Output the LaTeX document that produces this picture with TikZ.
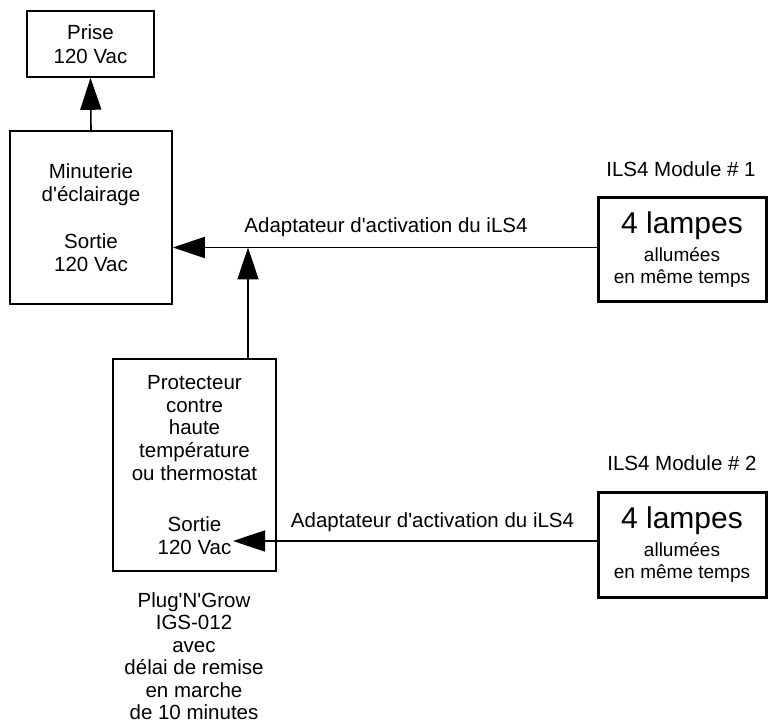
\documentclass[tikz,border=0pt]{standalone}
\usepackage{fontspec}
\setmainfont{Liberation Sans}
\usetikzlibrary{arrows.meta,calc}
\newcommand{\apos}{\textquotesingle}
\begin{document}
\begin{tikzpicture}[x=1pt,y=-1pt,
  box/.style={draw,line width=1.6pt,rectangle,align=center,inner sep=0pt,font=\fontsize{20.5}{23.5}\selectfont},
  modbox/.style={draw,line width=3pt,rectangle,align=center,inner sep=0pt,minimum width=168pt,font=\fontsize{19}{22}\selectfont},
  lbl/.style={inner sep=0pt,align=center,font=\fontsize{20.5}{22.5}\selectfont},
  big/.style={line width=1.6pt,-{Triangle[length=32pt,width=21pt]}}]
\useasboundingbox (0,0) rectangle (768,727);
\node[box,minimum width=127pt,minimum height=66pt] (prise) at (90.5,44) {Prise\\120 Vac};
\node[box,minimum width=162pt,minimum height=173pt] (minu) at (91,217.5) {Minuterie\\d\apos éclairage\\[23pt]Sortie\\120 Vac};
\node[box,minimum width=163pt,minimum height=212pt,font=\fontsize{20.5}{22.7}\selectfont] (prot) at (194.5,465) {Protecteur\\contre\\haute\\température\\ou thermostat\\[29pt]Sortie\\120 Vac};
\node[modbox,minimum height=103pt] (mod1) at (682,249.5) {{\fontsize{30}{31}\selectfont 4 lampes}\\[6pt]allumées\\en même temps};
\node[modbox,minimum height=105pt] (mod2) at (682,544.5) {{\fontsize{30}{31}\selectfont 4 lampes}\\[6pt]allumées\\en même temps};
\node[lbl] (lab1) at (681,169) {ILS4 Module \# 1};
\node[lbl] (lab2) at (682,463) {ILS4 Module \# 2};
\node[lbl] (a1) at (386,227) {Adaptateur d\apos activation du iLS4};
\node[lbl] (a2) at (432.5,522) {Adaptateur d\apos activation du iLS4};
\node[lbl] (png) at (194,656) {Plug\apos N\apos Grow\\IGS-012\\avec\\délai de remise\\en marche\\de 10 minutes};
\coordinate (j1) at (248,247.5);
\coordinate (tip2) at (233,541);
\draw[big] (minu.north) -- (prise.south);
\draw[big] (mod1.west |- j1) -- (minu.east |- j1);
\draw[big] (prot.north -| j1) -- (j1);
\draw[big] (mod2.west |- tip2) -- (tip2);
\end{tikzpicture}
\end{document}
